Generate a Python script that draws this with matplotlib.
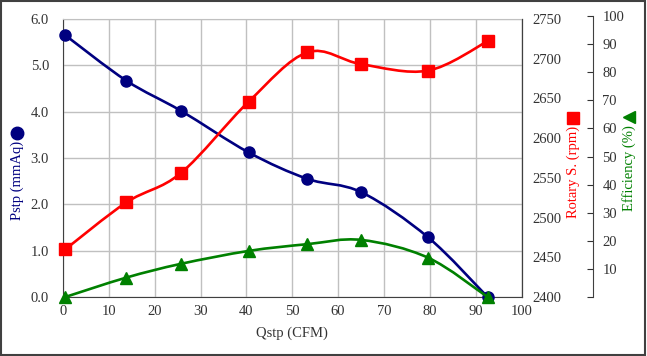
import matplotlib
matplotlib.use("Agg")
import matplotlib.pyplot as plt
from matplotlib.path import Path
from matplotlib.patches import PathPatch, Rectangle
from matplotlib.lines import Line2D

plt.rcParams['font.family'] = ['Liberation Serif', 'DejaVu Serif']
plt.rcParams['font.size'] = 10.5

# data
qstp = [0.5, 13.8, 25.7, 40.5, 53.3, 65.1, 79.6, 92.6]
pstp = [5.65, 4.67, 4.02, 3.12, 2.55, 2.26, 1.29, 0.0]
rpm = [2460, 2519, 2556, 2646, 2708, 2693, 2685, 2722]
eff = [0.0, 6.9, 11.8, 16.4, 18.8, 20.3, 14.0, 0.0]

navy = '#000080'
red = '#ff0000'
green = '#008000'
grid_c = '#c0c0c0'
txt_c = '#333333'


def smooth_path(xs, ys):
    # bezier path through the points (like Excel "smoothed line")
    n = len(xs)
    verts = [(xs[0], ys[0])]
    codes = [Path.MOVETO]
    for i in range(n - 1):
        i0 = max(i - 1, 0)
        i3 = min(i + 2, n - 1)
        c1 = (xs[i] + (xs[i + 1] - xs[i0]) / 6, ys[i] + (ys[i + 1] - ys[i0]) / 6)
        c2 = (xs[i + 1] - (xs[i3] - xs[i]) / 6, ys[i + 1] - (ys[i3] - ys[i]) / 6)
        verts += [c1, c2, (xs[i + 1], ys[i + 1])]
        codes += [Path.CURVE4] * 3
    return Path(verts, codes)


fig = plt.figure(figsize=(6.47, 3.56), dpi=100)
W, H = 647, 356
l, r, t, b = 63 / W, 521.5 / W, 19 / H, 297 / H
ax1 = fig.add_axes([l, 1 - b, r - l, b - t])
ax2 = ax1.twinx()
ax3 = fig.add_axes([l, 1 - b, r - l, (b - 16 / H)])
ax3.patch.set_visible(False)

# pressure
ax1.add_patch(PathPatch(smooth_path(qstp, pstp), fill=False, ec=navy, lw=1.9, zorder=3))
ax1.plot(qstp, pstp, 'o', color=navy, ms=8, zorder=4, clip_on=False)
ax1.set_xlim(0, 100)
ax1.set_ylim(0, 6)
ax1.set_xticks(range(0, 101, 10))
ax1.set_yticks([0, 1, 2, 3, 4, 5, 6])
ax1.set_yticklabels([f'{v:.1f}' for v in range(7)])
ax1.grid(True, color=grid_c, lw=1)
ax1.set_axisbelow(True)
ax1.tick_params(direction='in', length=0, colors=txt_c, labelsize=10.5)
ax1.tick_params(axis='y', pad=10)
ax1.tick_params(axis='x', pad=6)
for s in ['left', 'bottom']:
    ax1.spines[s].set_color('#404040')
ax1.spines['top'].set_color(grid_c)
ax1.set_xlabel('Qstp (CFM)', color=txt_c, fontsize=10.5, labelpad=6)

# rotary speed
ax2.add_patch(PathPatch(smooth_path(qstp, rpm), fill=False, ec=red, lw=1.9, zorder=3))
ax2.plot(qstp, rpm, 's', color=red, ms=8.5, zorder=4, clip_on=False)
ax2.set_ylim(2400, 2750)
ax2.set_yticks(range(2400, 2751, 50))
ax2.tick_params(direction='in', length=0, colors=txt_c, labelsize=10.5, pad=8)
ax2.spines['right'].set_color('#404040')
ax2.spines['top'].set_visible(False)
ax2.spines['left'].set_visible(False)
ax2.spines['bottom'].set_visible(False)

# efficiency
ax3.add_patch(PathPatch(smooth_path(qstp, eff), fill=False, ec=green, lw=1.9, zorder=3))
ax3.plot(qstp, eff, '^', color=green, ms=8, zorder=4, clip_on=False)
ax3.set_xlim(0, 100)
ax3.set_ylim(0, 100)
ax3.set_xticks([])
ax3.yaxis.tick_right()
ax3.set_yticks(range(0, 101, 10))
ax3.set_yticklabels([''] + [str(v) for v in range(10, 101, 10)])
ax3.tick_params(direction='in', length=4, colors=txt_c, labelsize=10.5, pad=7)
for s in ['top', 'left', 'bottom']:
    ax3.spines[s].set_visible(False)
ax3.spines['right'].set_position(('axes', (592.7 - 63) / (521.5 - 63)))
ax3.spines['right'].set_color('#404040')

# axis titles with marker symbols
fig.text(17 / W, 1 - 180 / H, 'Pstp (mmAq)', rotation=90, color=navy,
         ha='center', va='center', fontsize=10.5)
fig.add_artist(Line2D([17 / W], [1 - 133 / H], marker='o', color=navy, ms=9))
fig.text(573 / W, 1 - 172 / H, 'Rotary S. (rpm)', rotation=90, color=red,
         ha='center', va='center', fontsize=10.5)
fig.add_artist(Line2D([573 / W], [1 - 118 / H], marker='s', color=red, ms=9))
fig.text(629 / W, 1 - 168 / H, 'Efficiency (%)', rotation=90, color=green,
         ha='center', va='center', fontsize=10.5)
fig.add_artist(Line2D([629 / W], [1 - 117 / H], marker='<', color=green, ms=9))

fig.add_artist(Rectangle((0.002, 0.004), 0.995, 0.992, transform=fig.transFigure,
                         fill=False, ec='#404040', lw=1.5))

fig.savefig('out.png', dpi=100)
